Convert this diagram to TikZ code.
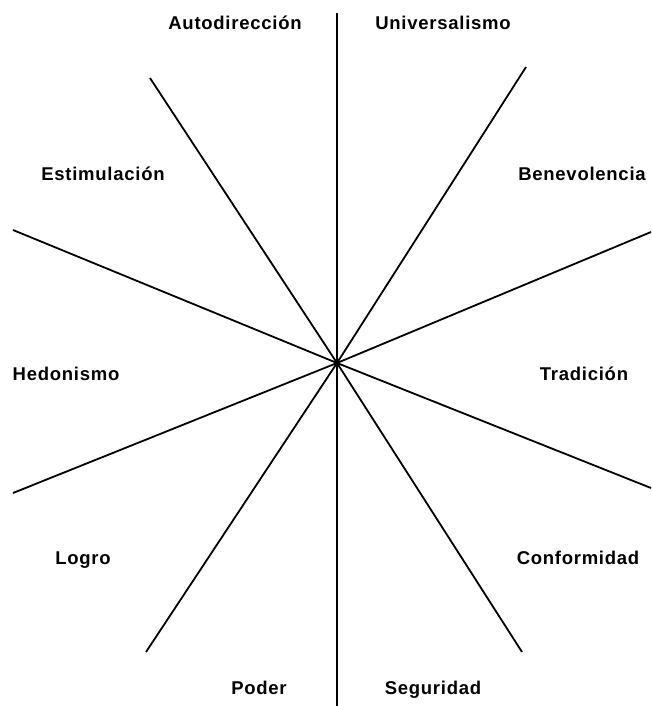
\documentclass[tikz,border=0pt]{standalone}
\usepackage{fontspec}
\setmainfont{Liberation Sans}[LetterSpace=4]
\begin{document}
\begin{tikzpicture}[x=1pt,y=-1pt,
  spoke/.style={line width=1.8pt,black},
  lbl/.style={font=\bfseries\fontsize{18.5}{20}\selectfont,inner sep=0pt,anchor=base}]
\useasboundingbox[fill=white] (0,0) rectangle (651,706);
\coordinate (c) at (337,363);
\coordinate (vt) at (337,13);
\coordinate (vb) at (337,706);
\coordinate (tl) at (150,78);
\coordinate (br) at (522,652);
\coordinate (tr) at (526,67);
\coordinate (bl) at (146,652);
\coordinate (lt) at (13,230);
\coordinate (rb) at (651,488);
\coordinate (rt) at (651,232);
\coordinate (lb) at (13,493);
\draw[spoke] (vt) -- (vb);
\draw[spoke] (tl) -- (c) -- (br);
\draw[spoke] (tr) -- (c) -- (bl);
\draw[spoke] (lt) -- (c) -- (rb);
\draw[spoke] (rt) -- (c) -- (lb);
\node[lbl] (auto) at (235,30) {Autodirección};
\node[lbl] (univ) at (443,30) {Universalismo};
\node[lbl] (esti) at (103,180) {Estimulación};
\node[lbl] (bene) at (582,180) {Benevolencia};
\node[lbl] (hedo) at (66,380) {Hedonismo};
\node[lbl] (trad) at (584,380) {Tradición};
\node[lbl] (logr) at (83,564) {Logro};
\node[lbl] (conf) at (578,564) {Conformidad};
\node[lbl] (pode) at (259,694) {Poder};
\node[lbl] (segu) at (433,694) {Seguridad};
\end{tikzpicture}
\end{document}
